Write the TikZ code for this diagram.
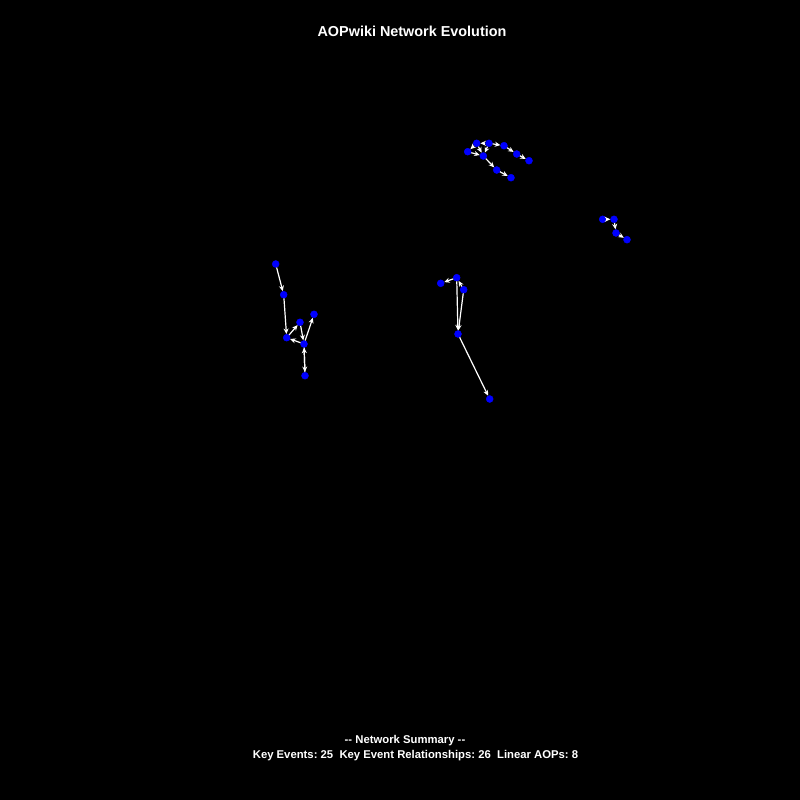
\documentclass[tikz,border=0pt]{standalone}
\usepackage{fontspec}
\setmainfont{Liberation Sans}
\frenchspacing
\usetikzlibrary{arrows.meta}
\definecolor{cKE}{HTML}{0000FF}
\definecolor{cKER}{HTML}{FFFFFF}
\tikzset{
  ke/.style  ={circle, inner sep=0pt, minimum size=7pt, fill=cKE, draw=cKE},
  ker/.style ={-{Stealth[length=5.5pt,width=5pt]}, line width=1.2pt, draw=cKER},
  ttl/.style ={text=white, inner sep=0pt, font=\bfseries\fontsize{14.4}{17}\selectfont},
  summ/.style={text=white, inner sep=0pt, font=\bfseries\fontsize{11.3}{14}\selectfont},
}
\begin{document}
\begin{tikzpicture}[x=1pt,y=-1pt]
    \fill[black] (0,0) rectangle (800,800);
    \node[ttl] (title) at (412,31) {AOPwiki Network Evolution};
    % top cluster
    \node[ke] (a1) at (476.7,143.3) {}; \node[ke] (a2) at (489,143.3) {};
    \node[ke] (a3) at (504,145.7) {};   \node[ke] (a4) at (467.7,151.7) {};
    \node[ke] (a5) at (483.3,156) {};   \node[ke] (a6) at (516.7,154) {};
    \node[ke] (a7) at (529,160.7) {};   \node[ke] (a8) at (496.7,170) {};
    \node[ke] (a9) at (511,177.7) {};
    % right cluster
    \node[ke] (b1) at (602.7,219.3) {}; \node[ke] (b2) at (614,219.3) {};
    \node[ke] (b3) at (616,233) {};     \node[ke] (b4) at (627,239.7) {};
    % left cluster
    \node[ke] (c1) at (275.7,264) {};   \node[ke] (c2) at (283.7,294.7) {};
    \node[ke] (c3) at (286.7,337.7) {}; \node[ke] (c4) at (300,322.3) {};
    \node[ke] (c5) at (314,314.3) {};   \node[ke] (c6) at (304,344) {};
    \node[ke] (c7) at (305,375.7) {};
    % middle cluster
    \node[ke] (d1) at (440.7,283.3) {}; \node[ke] (d2) at (456.7,277.7) {};
    \node[ke] (d3) at (463.7,289.7) {}; \node[ke] (d4) at (458,334) {};
    \node[ke] (d5) at (489.7,399) {};
    % relationships
    \draw[ker](a2)--(a1); \draw[ker](a1)--(a4); \draw[ker](a4)--(a5);
    \draw[ker](a1)--(a5); \draw[ker](a2)--(a5); \draw[ker](a2)--(a3);
    \draw[ker](a3)--(a6); \draw[ker](a6)--(a7); \draw[ker](a5)--(a8);
    \draw[ker](a8)--(a9);
    \draw[ker](b1)--(b2); \draw[ker](b2)--(b3); \draw[ker](b3)--(b4);
    \draw[ker](c1)--(c2); \draw[ker](c2)--(c3); \draw[ker](c3)--(c4);
    \draw[ker](c4)--(c6); \draw[ker](c6)--(c3); \draw[ker](c6)--(c5);
    \draw[ker](c6)--(c7); \draw[ker](c7)--(c6);
    \draw[ker](d2)--(d1); \draw[ker](d3)--(d2); \draw[ker](d2)--(d4);
    \draw[ker](d3)--(d4); \draw[ker](d4)--(d5);
    \node[summ] (sum1) at (405,741) {-{}- Network Summary -{}-};
    \node[summ] (sum2) at (415.5,756) {Key Events: 25\ \ Key Event Relationships: 26\ \ Linear AOPs: 8};
  \end{tikzpicture}
\end{document}
